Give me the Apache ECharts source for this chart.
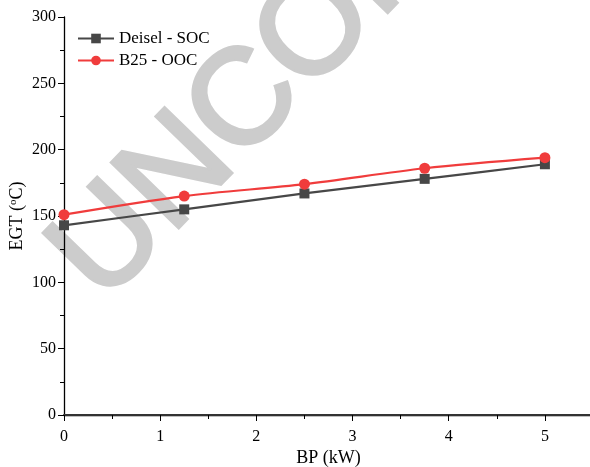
<html>
<head>
<meta charset="utf-8">
</head>
<body style="margin:0">
<div id="main" style="width:590px;height:467px;"></div>
<script src="https://cdn.jsdelivr.net/npm/echarts@6/dist/echarts.min.js"></script>
<script>
	// data
	var bp = [0, 1.25, 2.5, 3.75, 5];
	var dieselSOC = [143, 155, 167, 178, 189];
	var b25OOC = [151, 165, 174, 186, 194];
	var names = ['Deisel - SOC', 'B25 - OOC'];

	var myChart = echarts.init(document.getElementById('main'), null, { renderer: 'canvas' });
	var serif = 'Liberation Serif';

	function pairs(ys) {
		return bp.map(function (x, i) { return [x, ys[i]]; });
	}

	var option = {
		animation: false,
		textStyle: { fontFamily: serif },
		grid: { left: 64, top: 17, right: -3, bottom: 52, outerBoundsMode: 'none' },
		legend: {
			left: 72, top: 25, orient: 'vertical', itemGap: 5,
			itemWidth: 36, itemHeight: 12,
			textStyle: { fontFamily: serif, fontSize: 17, color: '#000' },
			data: names
		},
		xAxis: [{
			type: 'value', min: 0, max: 5.5, interval: 1,
			name: 'BP (kW)', nameLocation: 'middle', nameGap: 34, nameMoveOverlap: false,
			nameTextStyle: { fontFamily: serif, fontSize: 18, color: '#000' },
			axisLine: { onZero: false, lineStyle: { color: '#000', width: 1.3 } },
			axisTick: { show: true, inside: false, length: 6, lineStyle: { color: '#000' } },
			minorTick: { show: true, splitNumber: 2, length: 4, lineStyle: { color: '#000' } },
			axisLabel: { fontFamily: serif, fontSize: 16, color: '#000', margin: 14,
				formatter: function (v) { return v > 5 ? '' : v; } },
			splitLine: { show: false }
		}, {
			type: 'value', min: 0, max: 5.5, position: 'top',
			axisLine: { show: true, lineStyle: { color: '#333', width: 2 } },
			axisTick: { show: false }, axisLabel: { show: false }, splitLine: { show: false }
		}],
		yAxis: {
			type: 'value', min: 0, max: 300, interval: 50,
			name: 'EGT ({sup|o}C)', nameLocation: 'middle', nameGap: 38, nameMoveOverlap: false,
			nameTextStyle: { fontFamily: serif, fontSize: 18, color: '#000',
				rich: { sup: { fontFamily: serif, fontSize: 11, verticalAlign: 'top', padding: [0, 0, 6, 0], color: '#000' } } },
			axisLine: { show: true, onZero: false, lineStyle: { color: '#000', width: 1.3 } },
			axisTick: { show: true, inside: false, length: 6, lineStyle: { color: '#000' } },
			minorTick: { show: true, splitNumber: 2, length: 4, lineStyle: { color: '#000' } },
			axisLabel: { fontFamily: serif, fontSize: 16, color: '#000', margin: 8 },
			splitLine: { show: false }
		},
		series: [{
			name: names[0], type: 'line', smooth: 0.3, z: 3,
			symbol: 'rect', symbolSize: 10,
			lineStyle: { color: '#474747', width: 2.2 },
			itemStyle: { color: '#474747' },
			data: pairs(dieselSOC)
		}, {
			name: names[1], type: 'line', smooth: 0.3, z: 3,
			symbol: 'circle', symbolSize: 11,
			lineStyle: { color: '#f03c3c', width: 2.2 },
			itemStyle: { color: '#f03c3c' },
			data: pairs(b25OOC)
		}],
		// watermark behind the data
		graphic: [{
			type: 'text', x: 28, y: 232, rotation: 0.8, z: 0,
			style: { text: 'UNCORRECTED PROOF', fill: '#cccccc',
				stroke: '#cccccc', lineWidth: 4, lineJoin: 'round',
				font: '135px "Liberation Sans"' }
		}]
	};

	myChart.setOption(option);
</script>
</body>
</html>
